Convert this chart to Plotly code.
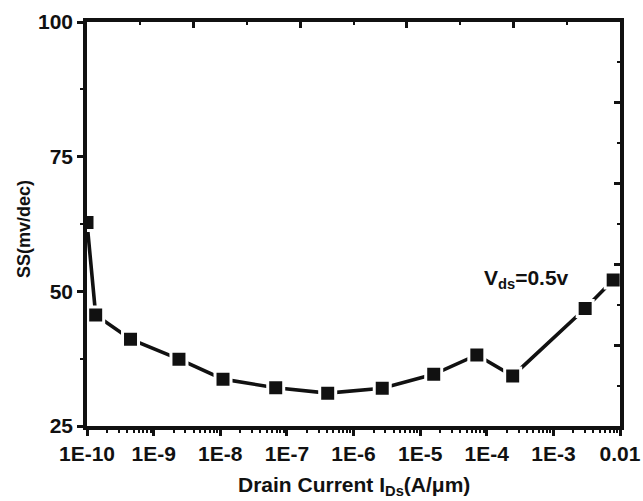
import plotly.graph_objects as go

# Data
drain_current = [1.0e-10, 1.35e-10, 4.5e-10, 2.4e-9, 1.1e-8, 6.8e-8, 4.1e-7,
                 2.7e-6, 1.6e-5, 7.1e-5, 2.45e-4, 3.0e-3, 7.9e-3]
ss_values = [62.8, 45.6, 41.1, 37.4, 33.7, 32.1, 31.1, 32.0, 34.6, 38.2, 34.3, 46.8, 52.1]

x_tick_vals = [1e-10, 1e-9, 1e-8, 1e-7, 1e-6, 1e-5, 1e-4, 1e-3, 1e-2]
x_tick_text = ["1E-10", "1E-9", "1E-8", "1E-7", "1E-6", "1E-5", "1E-4", "1E-3", "0.01"]
y_tick_vals = [25, 50, 75, 100]
x_minor_vals = [m * d for d in x_tick_vals[:-1] for m in range(2, 10)]

INK = "#111111"
FONT = "Liberation Sans, Arial, sans-serif"

fig = go.Figure()
fig.add_trace(go.Scatter(
    x=drain_current, y=ss_values, mode="lines+markers",
    line=dict(color=INK, width=3.6),
    marker=dict(symbol="square", size=16, color=INK,
                line=dict(color="white", width=3)),
    showlegend=False, hoverinfo="skip",
))
# empty trace to activate the mirror (top/right) tick axes
fig.add_trace(go.Scatter(x=[], y=[], xaxis="x2", yaxis="y2",
                         showlegend=False, hoverinfo="skip"))

fig.update_layout(
    width=643, height=501,
    margin=dict(l=87, r=23, t=22, b=75),
    paper_bgcolor="white", plot_bgcolor="white",
    font=dict(family=FONT, color=INK, size=20, weight="bold"),
    xaxis=dict(
        type="log", range=[-10, -2], automargin=False,
        tickvals=x_tick_vals, ticktext=x_tick_text,
        ticks="outside", ticklen=6, tickwidth=3, tickcolor=INK,
        minor=dict(tickvals=x_minor_vals, ticks="outside", ticklen=3, tickwidth=2,
                   tickcolor=INK, showgrid=False),
        showline=True, linewidth=3.5, linecolor=INK, mirror=True,
        showgrid=False, zeroline=False,
        ticklabelstandoff=0,
        tickfont=dict(size=21, family=FONT, color=INK, weight="bold"),
    ),
    yaxis=dict(
        range=[25, 100], tickvals=y_tick_vals, automargin=False,
        ticks="outside", ticklen=6, tickwidth=3, tickcolor=INK,
        minor=dict(dtick=12.5, ticks="outside", ticklen=3, tickwidth=2, tickcolor=INK, showgrid=False),
        showline=True, linewidth=3.5, linecolor=INK, mirror=True,
        showgrid=False, zeroline=False,
        tickfont=dict(size=21, family=FONT, color=INK, weight="bold"),
    ),
    xaxis2=dict(
        overlaying="x", side="top", range=[0, 10], dtick=2,
        ticks="inside", ticklen=6, tickwidth=3, tickcolor=INK,
        minor=dict(dtick=1, ticks="inside", ticklen=3, tickwidth=2, tickcolor=INK, showgrid=False),
        showticklabels=False, showline=False, showgrid=False, zeroline=False,
    ),
    yaxis2=dict(
        overlaying="y", side="right", range=[0, 10], dtick=2,
        ticks="inside", ticklen=6, tickwidth=3, tickcolor=INK,
        minor=dict(dtick=1, ticks="inside", ticklen=3, tickwidth=2, tickcolor=INK, showgrid=False),
        showticklabels=False, showline=False, showgrid=False, zeroline=False,
    ),
    annotations=[
        dict(x=-4.07, y=52.2, xref="x", yref="y", xanchor="left", yanchor="middle",
             text="V<sub>ds</sub>=0.5v", showarrow=False,
             font=dict(size=21, family=FONT, color=INK, weight="bold")),
        dict(x=0.5, y=0, xref="paper", yref="paper", xanchor="center", yanchor="top",
             yshift=-45, text="Drain Current I<sub>Ds</sub>(A/μm)", showarrow=False,
             font=dict(size=21, family=FONT, color=INK, weight="bold")),
        dict(x=0, y=0.5, xref="paper", yref="paper", xanchor="center", yanchor="middle",
             xshift=-63, yshift=-5, textangle=-90, text="SS(mv/dec)", showarrow=False,
             font=dict(size=18, family=FONT, color=INK, weight="bold")),
    ],
)

fig.write_html("out.html")
